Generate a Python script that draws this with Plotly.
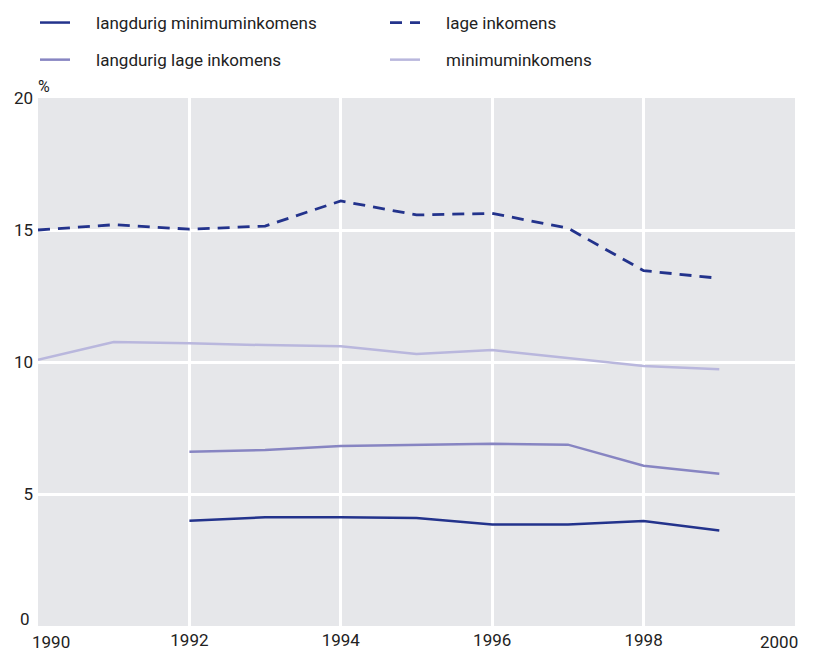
import plotly.graph_objects as go

# Jaren en percentages
jaren_lang = [1990, 1991, 1992, 1993, 1994, 1995, 1996, 1997, 1998, 1999]
jaren_kort = [1992, 1993, 1994, 1995, 1996, 1997, 1998, 1999]

lage_inkomens = [15.0, 15.2, 15.03, 15.15, 16.1, 15.57, 15.63, 15.07, 13.46, 13.17]
minimuminkomens = [10.08, 10.76, 10.71, 10.64, 10.6, 10.3, 10.45, 10.14, 9.85, 9.73]
langdurig_lage = [6.6, 6.67, 6.82, 6.86, 6.9, 6.87, 6.07, 5.77]
langdurig_minimum = [3.99, 4.12, 4.12, 4.09, 3.84, 3.84, 3.98, 3.62]

x_ticks = [1992, 1994, 1996, 1998]
y_ticks = [5, 10, 15, 20]
x_rand = [1990, 2000]   # randlabels, apart geplaatst zodat ze niet botsen
y_rand = [0]

DONKER = '#23338c'
MIDDEN = '#8785c2'
LICHT = '#b9b7dd'
TEKST = '#222222'
FONT = 'Liberation Sans Narrow, Roboto, Liberation Sans, Arial, sans-serif'
GAP = '\u00a0' * 5   # extra ruimte tussen lijntje en tekst in de legenda

fig = go.Figure()

fig.add_trace(go.Scatter(
    x=jaren_kort, y=langdurig_minimum, mode='lines',
    name=GAP + 'langdurig minimuminkomens', legend='legend', legendgroup='a',
    line=dict(color=DONKER, width=2.5)
))
fig.add_trace(go.Scatter(
    x=jaren_lang, y=lage_inkomens, mode='lines',
    name=GAP + 'lage inkomens', legend='legend2', legendgroup='b',
    line=dict(color=DONKER, width=2.8, dash='12px,8px')
))
fig.add_trace(go.Scatter(
    x=jaren_kort, y=langdurig_lage, mode='lines',
    name=GAP + 'langdurig lage inkomens', legend='legend', legendgroup='c',
    line=dict(color=MIDDEN, width=2.5)
))
fig.add_trace(go.Scatter(
    x=jaren_lang, y=minimuminkomens, mode='lines',
    name=GAP + 'minimuminkomens', legend='legend2', legendgroup='d',
    line=dict(color=LICHT, width=2.5)
))

# % boven de y-as
fig.add_annotation(
    x=0, y=1, xref='paper', yref='paper',
    xanchor='left', yanchor='bottom', xshift=-2,
    text='%', showarrow=False,
    font=dict(family=FONT, size=16, color=TEKST)
)

# randlabels x-as
for jaar in x_rand:
    fig.add_annotation(
        x=jaar, y=0, xref='x', yref='paper',
        xanchor='left' if jaar == x_rand[0] else 'right',
        yanchor='top', xshift=-8 if jaar == x_rand[0] else 5, yshift=-4,
        text=str(jaar), showarrow=False,
        font=dict(family=FONT, size=17, color=TEKST)
    )

# randlabel y-as
for waarde in y_rand:
    fig.add_annotation(
        x=0, y=waarde, xref='paper', yref='y',
        xanchor='right', yanchor='middle', xshift=-6, yshift=7,
        text=str(waarde), showarrow=False,
        font=dict(family=FONT, size=17, color=TEKST)
    )

legend_stijl = dict(
    orientation='v', yref='container', xref='container',
    yanchor='top', xanchor='left',
    tracegroupgap=12, itemwidth=30,
    font=dict(family=FONT, size=17, color=TEKST),
    bgcolor='rgba(0,0,0,0)'
)

fig.update_layout(
    width=813, height=654,
    margin=dict(l=38, r=18, t=98, b=28, autoexpand=False),
    paper_bgcolor='white',
    plot_bgcolor='#e6e7ea',
    font=dict(family=FONT, size=17, color=TEKST),
    showlegend=True,
    legend=dict(x=35 / 813, y=1 - 5 / 654, **legend_stijl),
    legend2=dict(x=385 / 813, y=1 - 5 / 654, **legend_stijl),
    xaxis=dict(
        range=[1990, 2000],
        tickvals=x_ticks,
        showgrid=True, gridcolor='white', gridwidth=2.5,
        zeroline=False, showline=False, ticks='',
        ticklabelstandoff=2,
        fixedrange=True
    ),
    yaxis=dict(
        range=[0, 20],
        tickvals=y_ticks,
        showgrid=True, gridcolor='white', gridwidth=2.5,
        zeroline=False, showline=False, ticks='',
        ticklabelstandoff=4,
        fixedrange=True
    )
)

# body-marge weg, zodat de figuur precies het venster vult
fig.write_html(
    "out.html",
    config={'displayModeBar': False},
    post_script="document.body.style.margin='0';"
)
